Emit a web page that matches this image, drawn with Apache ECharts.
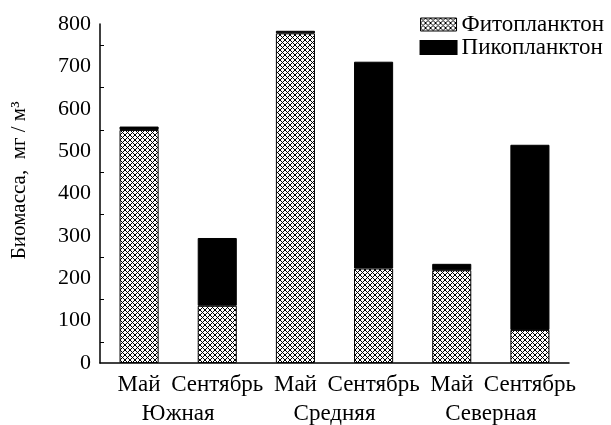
<!DOCTYPE html>
<html>
<head>
<meta charset="utf-8">
<script src="https://cdn.jsdelivr.net/npm/echarts@6/dist/echarts.min.js"></script>
<style>
  html, body { margin: 0; padding: 0; background: #fff; }
  #chart { width: 611px; height: 425px; }
</style>
</head>
<body>
<div id="chart"></div>
<script>
  // data
  const months = ['Май', 'Сентябрь', 'Май', 'Сентябрь', 'Май', 'Сентябрь'];
  const regions = ['Южная', 'Средняя', 'Северная'];
  const phyto = [550, 135, 778, 223, 219, 78];
  const pico = [8, 160, 6, 488, 15, 437];
  const yTicks = [0, 100, 200, 300, 400, 500, 600, 700, 800];

  // crosshatch fill
  const makeHatch = () => {
    const c = document.createElement('canvas');
    c.width = 5; c.height = 5;
    const ctx = c.getContext('2d');
    ctx.fillStyle = '#fff';
    ctx.fillRect(0, 0, 5, 5);
    ctx.strokeStyle = '#000';
    ctx.lineWidth = 1;
    ctx.beginPath();
    ctx.moveTo(-1, -1); ctx.lineTo(6, 6);
    ctx.moveTo(-1, 6); ctx.lineTo(6, -1);
    ctx.stroke();
    return c;
  };
  const hatch = { image: makeHatch(), repeat: 'repeat' };

  const serifFamily = '"Liberation Serif", serif';
  const chart = echarts.init(document.getElementById('chart'));
  const option = {
    animation: false,
    textStyle: { fontFamily: serifFamily, color: '#000' },
    grid: { left: 100, right: 42, top: 24, bottom: 59 },
    legend: {
      orient: 'vertical',
      right: 2,
      top: 8,
      icon: 'rect',
      itemWidth: 36,
      itemHeight: 13,
      itemGap: 0,
      textStyle: { fontFamily: serifFamily, fontSize: 23, color: '#000' },
      data: [
        { name: 'Фитопланктон', itemStyle: { color: hatch, borderColor: '#000', borderWidth: 1 } },
        { name: 'Пикопланктон', itemStyle: { color: '#000' } }
      ]
    },
    xAxis: [
      {
        type: 'category',
        data: months,
        axisLine: { lineStyle: { color: '#000', width: 1.5 } },
        axisTick: { inside: true, length: 5, lineStyle: { color: '#000' } },
        axisLabel: { fontFamily: serifFamily, fontSize: 23, color: '#000', margin: 10, interval: 0 }
      },
      {
        type: 'category',
        data: months,
        position: 'bottom',
        axisLine: { show: false },
        axisTick: { inside: true, length: 5, alignWithLabel: true, lineStyle: { color: '#000' } },
        axisLabel: { show: false }
      },
      {
        type: 'category',
        data: regions,
        position: 'bottom',
        offset: 29,
        axisLine: { show: false },
        axisTick: { show: false },
        axisLabel: { fontFamily: serifFamily, fontSize: 23, color: '#000', margin: 10, interval: 0 }
      }
    ],
    yAxis: {
      type: 'value',
      min: yTicks[0],
      max: yTicks[yTicks.length - 1],
      interval: 100,
      name: '     Биомасса,  мг / м³',
      nameLocation: 'middle',
      nameGap: 70,
      nameTextStyle: { fontFamily: serifFamily, fontSize: 21, color: '#000' },
      axisLine: { show: true, lineStyle: { color: '#000', width: 1.5 } },
      axisTick: { inside: true, length: 7, lineStyle: { color: '#000' } },
      minorTick: { show: true, splitNumber: 2, length: 4, lineStyle: { color: '#000' } },
      splitLine: { show: false },
      axisLabel: { fontFamily: serifFamily, fontSize: 22, color: '#000', margin: 9 }
    },
    series: [
      {
        name: 'Фитопланктон',
        type: 'bar',
        stack: 'total',
        barWidth: '50%',
        data: phyto,
        itemStyle: { color: hatch, borderColor: '#000', borderWidth: 1 }
      },
      {
        name: 'Пикопланктон',
        type: 'bar',
        stack: 'total',
        barWidth: '50%',
        data: pico,
        itemStyle: { color: '#000', borderColor: '#000', borderWidth: 1 }
      }
    ]
  };
  chart.setOption(option);
</script>
</body>
</html>
